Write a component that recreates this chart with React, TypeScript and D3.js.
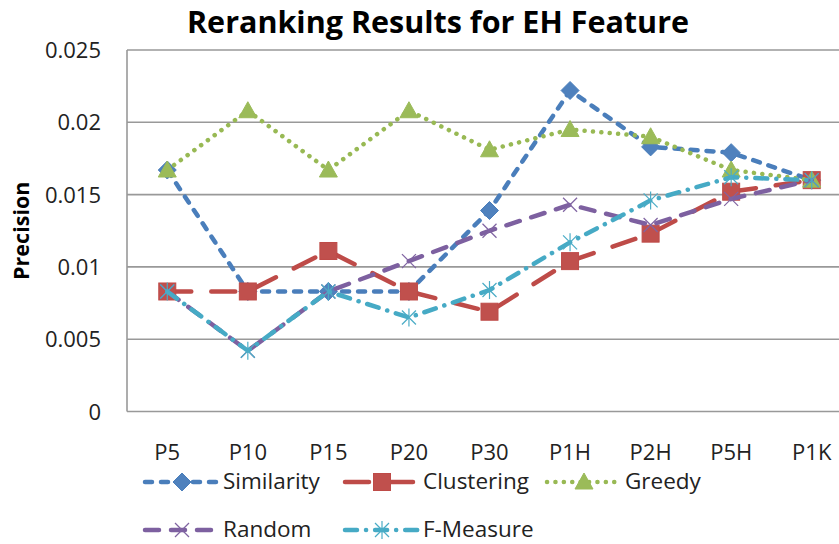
import React from "react";
import * as d3 from "d3";

const categories = ["P5", "P10", "P15", "P20", "P30", "P1H", "P2H", "P5H", "P1K"];
const yTicks = [0, 0.005, 0.01, 0.015, 0.02, 0.025];
const yTickLabels = ["0", "0.005", "0.01", "0.015", "0.02", "0.025"];

const similarity = [0.0167, 0.0083, 0.0083, 0.0083, 0.0139, 0.0222, 0.0183, 0.0179, 0.016];
const clustering = [0.0083, 0.0083, 0.0111, 0.0083, 0.0069, 0.0104, 0.0123, 0.0152, 0.016];
const greedy = [0.0167, 0.0208, 0.0167, 0.0208, 0.0181, 0.0195, 0.019, 0.0167, 0.016];
const random = [0.0083, 0.0042, 0.0083, 0.0104, 0.0125, 0.0143, 0.0129, 0.0147, 0.016];
const fMeasure = [0.0083, 0.0042, 0.0083, 0.0065, 0.0084, 0.0117, 0.0146, 0.0162, 0.016];

type Marker = "diamond" | "square" | "triangle" | "x" | "star";
interface Series {
  name: string;
  values: number[];
  color: string;
  fill: string;
  dash: string;
  width: number;
  marker: Marker;
}

const series: Series[] = [
  { name: "Similarity", values: similarity, color: "#4A7EBB", fill: "#4F81BD", dash: "7 9", width: 4.5, marker: "diamond" },
  { name: "Clustering", values: clustering, color: "#BE4B48", fill: "#C0504D", dash: "24 20", width: 4.5, marker: "square" },
  { name: "Greedy", values: greedy, color: "#98B954", fill: "#9BBB59", dash: "0.1 8.3", width: 4.5, marker: "triangle" },
  { name: "Random", values: random, color: "#7D60A0", fill: "#8064A2", dash: "14 12", width: 4.5, marker: "x" },
  { name: "F-Measure", values: fMeasure, color: "#46AAC5", fill: "#4BACC6", dash: "12 9 0.1 9", width: 4.5, marker: "star" },
];

const FONT = "'Open Sans', 'Noto Sans', sans-serif";

function MarkerShape({ type, x, y, s }: { type: Marker; x: number; y: number; s: Series }) {
  if (type === "diamond") {
    const r = 9;
    return <path d={`M${x},${y - r}L${x + r},${y}L${x},${y + r}L${x - r},${y}Z`} fill={s.fill} stroke={s.color} strokeWidth={1} />;
  }
  if (type === "square") {
    const h = 8.5;
    return <rect x={x - h} y={y - h} width={2 * h} height={2 * h} fill={s.fill} stroke={s.color} strokeWidth={1} />;
  }
  if (type === "triangle") {
    return <path d={`M${x},${y - 9}L${x + 9},${y + 7}L${x - 9},${y + 7}Z`} fill={s.fill} stroke={s.fill} strokeWidth={1} />;
  }
  if (type === "x") {
    const r = 7;
    return (
      <g stroke={s.fill} strokeWidth={1.2}>
        <line x1={x - r} y1={y - r} x2={x + r} y2={y + r} />
        <line x1={x - r} y1={y + r} x2={x + r} y2={y - r} />
      </g>
    );
  }
  const r = 7;
  return (
    <g stroke={s.fill} strokeWidth={1.2}>
      <line x1={x} y1={y - 9} x2={x} y2={y + 9} />
      <line x1={x - r} y1={y - r} x2={x + r} y2={y + r} />
      <line x1={x - r} y1={y + r} x2={x + r} y2={y - r} />
    </g>
  );
}

export default function App() {
  const W = 839;
  const H = 544;
  const left = 127;
  const right = 852;
  const top = 50;
  const bottom = 411.5;

  const x = d3.scaleBand<string>().domain(categories).range([left, right]).padding(0);
  const y = d3.scaleLinear().domain([0, 0.025]).range([bottom, top]);
  const cx = (c: string) => (x(c) as number) + x.bandwidth() / 2;

  const line = d3
    .line<number>()
    .x((_, i) => cx(categories[i]))
    .y((v) => y(v));

  const legendCols = [145, 345, 547];
  const legendRows = [482, 530];
  const legendPos = [
    [0, 0],
    [1, 0],
    [2, 0],
    [0, 1],
    [1, 1],
  ];

  return (
    <svg width={W} height={H} style={{ position: "absolute", left: 0, top: 0 }} fontFamily={FONT}>
      <rect x={0} y={0} width={W} height={H} fill="#fff" />
      <text x={438} y={33} textAnchor="middle" fontSize={30.5} fontWeight="bold" fill="#000">
        Reranking Results for EH Feature
      </text>

      {yTicks.map((t, i) => (
        <g key={i}>
          <line x1={left} x2={right} y1={y(t)} y2={y(t)} stroke="#999" strokeWidth={1.6} />
          <text x={101} y={y(t) + 8} textAnchor="end" fontSize={22} fill="#222">
            {yTickLabels[i]}
          </text>
        </g>
      ))}
      <line x1={left} x2={left} y1={top} y2={bottom} stroke="#999" strokeWidth={1.6} />

      {categories.map((c) => (
        <text key={c} x={cx(c)} y={460} textAnchor="middle" fontSize={22} fill="#222">
          {c}
        </text>
      ))}

      <text
        transform={`translate(29,${(top + bottom) / 2}) rotate(-90)`}
        textAnchor="middle"
        fontSize={21.5}
        fontWeight="bold"
        fill="#000"
      >
        Precision
      </text>

      {series.map((s) => (
        <g key={s.name}>
          <path
            d={line(s.values) as string}
            fill="none"
            stroke={s.color}
            strokeWidth={s.width}
            strokeDasharray={s.dash}
            strokeLinecap="round"
            strokeLinejoin="round"
          />
          {s.values.map((v, i) => (
            <MarkerShape key={i} type={s.marker} x={cx(categories[i])} y={y(v)} s={s} />
          ))}
        </g>
      ))}

      {series.map((s, i) => {
        const [col, row] = legendPos[i];
        const lx = legendCols[col];
        const ly = legendRows[row];
        return (
          <g key={s.name}>
            <line
              x1={lx}
              x2={lx + 73}
              y1={ly}
              y2={ly}
              stroke={s.color}
              strokeWidth={s.width}
              strokeDasharray={s.dash}
              strokeLinecap="round"
            />
            <MarkerShape type={s.marker} x={lx + 37} y={ly} s={s} />
            <text x={lx + 78} y={ly + 7} fontSize={22.5} fill="#222">
              {s.name}
            </text>
          </g>
        );
      })}
    </svg>
  );
}
